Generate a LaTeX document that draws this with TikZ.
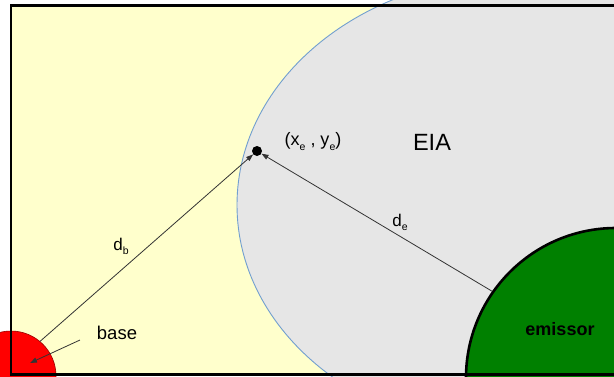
\documentclass[tikz,border=0pt]{standalone}
\usepackage{fontspec}
\setmainfont{Liberation Sans}
\usetikzlibrary{arrows.meta}
\definecolor{fundoam}{HTML}{FFFFCC}
\definecolor{cinzaeia}{HTML}{E6E6E6}
\definecolor{bordaeia}{HTML}{729FCF}
\definecolor{verdeem}{HTML}{008000}
\newcommand{\lowidx}[1]{\raisebox{-4.5pt}{\fontsize{10.5}{10.5}\selectfont #1}}
\begin{document}
\begin{tikzpicture}[
        x=1pt, y=-1pt,
        eia/.style={fill=cinzaeia, draw=bordaeia, line width=0.9pt},
        base/.style={circle, fill=red, draw=red!60!black, line width=0.6pt, minimum size=90pt, inner sep=0pt},
        emissor/.style={circle, fill=verdeem, draw=black, line width=2.6pt, minimum size=300pt, inner sep=0pt},
        ponto/.style={circle, fill=black, minimum size=10pt, inner sep=0pt},
        seta/.style={-{Triangle[length=7pt, width=5pt]}, draw=black!80, line width=0.8pt},
        rotulo/.style={font=\fontsize{17}{17}\selectfont, anchor=base}
    ]
    \useasboundingbox (0,0) rectangle (614,376);
    \clip (0,0) rectangle (614,376);
    % Fundo
    \fill[fundoam] (11,5.5) rectangle (660,374.5);
    % Regiao EIA
    \draw[eia] (521,205) ellipse [x radius=284pt, y radius=230pt];
    \node[rotulo, font=\fontsize{23.5}{23.5}\selectfont] (leia) at (432,150) {EIA};
    % Base e emissor
    \node[base] (bs) at (11,376) {};
    \node[emissor] (em) at (616,378) {};
    \node[rotulo, font=\bfseries\fontsize{18}{18}\selectfont] (lem) at (560,335) {emissor};
    % Ponto (xe, ye)
    \node[ponto] (pt) at (257,151) {};
    \node[rotulo, font=\fontsize{18}{18}\selectfont] (lpt) at (313,145.5) {(x\lowidx{e} , y\lowidx{e})};
    % Distancias
    \draw[seta] (bs.50) -- (pt);
    \draw[seta] (em.145) -- (pt);
    \node[rotulo] (ldb) at (121,250) {d\lowidx{b}};
    \node[rotulo] (lde) at (400,226) {d\lowidx{e}};
    % Rotulo da base
    \node[rotulo, font=\fontsize{18.5}{18.5}\selectfont] (lbs) at (117,339) {base};
    \coordinate (ba) at (80,340);
    \coordinate (bb) at (30,363);
    \draw[seta] (ba) -- (bb);
    % Moldura
    \draw[line width=2.6pt] (11,5.5) rectangle (660,374.5);
\end{tikzpicture}
\end{document}
